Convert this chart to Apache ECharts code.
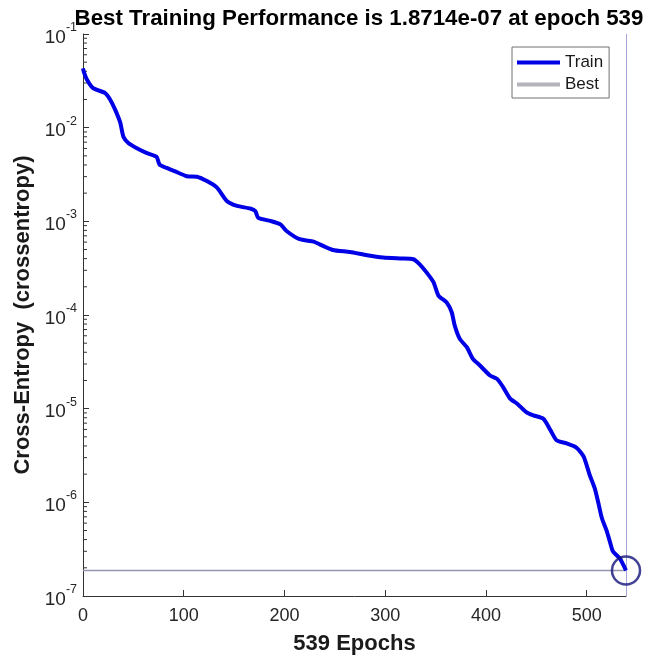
<!DOCTYPE html>
<html><head><meta charset="utf-8">
<script src="https://cdn.jsdelivr.net/npm/echarts@6/dist/echarts.min.js"></script>
<style>html,body{margin:0;padding:0;background:#fff}#c{width:653px;height:662px}</style>
</head><body><div id="c"></div>
<script>
const titleText = 'Best Training Performance is 1.8714e-07 at epoch 539';
const xAxisName = '539 Epochs';
const yAxisName = 'Cross-Entropy  (crossentropy)';
const epochs = [0,1,4,10,22,27,32,37,40,45,53,63,73,76,83,91,103,113,123,133,143,153,166,171,174,186,196,202,215,229,235,248,265,282,298,315,328,334,341,348,353,361,366,369,374,381,387,394,404,411,417,424,431,440,447,457,464,470,480,490,497,503,508,512,515,520,523,526,533,539];
const trainValues = [0.043,0.039,0.0325,0.0264,0.0234,0.0199,0.0155,0.0113,0.00807,0.00687,0.00608,0.00538,0.00488,0.00403,0.00372,0.00343,0.00303,0.00299,0.00269,0.00229,0.00164,0.00146,0.00137,0.00129,0.00109,0.00101,0.000929,0.000788,0.000644,0.000608,0.000568,0.000495,0.000471,0.000435,0.000411,0.000401,0.000394,0.000349,0.000285,0.000223,0.000160,0.000136,0.000107,7.7e-5,5.56e-5,4.53e-5,3.40e-5,2.89e-5,2.26e-5,2.08e-5,1.70e-5,1.28e-5,1.13e-5,9.2e-6,8.5e-6,7.8e-6,5.9e-6,4.6e-6,4.25e-6,3.82e-6,3.08e-6,1.95e-6,1.41e-6,9.4e-7,6.8e-7,4.9e-7,3.8e-7,3.0e-7,2.5e-7,1.8714e-7];
const bestEpoch = 539;
const bestValue = 1.8714e-7;
const xTicks = [0,100,200,300,400,500];
const yDecades = [-7,-6,-5,-4,-3,-2];
const yMinorMantissas = [2,3,4,5,6,7,8,9];
const xMin = 0, xMax = 539;
const yMin = 1e-7, yMax = 1e-1;

const font = '"Liberation Sans", Arial, Helvetica, sans-serif';
const trainData = epochs.map((e, i) => [e, trainValues[i]]);
const minorTickData = [];
yDecades.forEach(d => yMinorMantissas.forEach(m => minorTickData.push([xMin, m * Math.pow(10, d)])));

const chart = echarts.init(document.getElementById('c'), null, {renderer: 'canvas'});
chart.setOption({
  animation: false,
  backgroundColor: '#fff',
  title: {
    text: titleText, left: 354, top: 3, textAlign: 'center',
    textStyle: {fontFamily: font, fontSize: 22.3, fontWeight: 'bold', color: '#000'}
  },
  legend: {
    orient: 'vertical', left: 512, top: 47,
    data: [{name: 'Train', icon: 'rect'}, {name: 'Best', icon: 'rect', itemStyle: {color: '#b4b4bc'}}],
    itemWidth: 43, itemHeight: 4, itemGap: 5,
    padding: [7, 6, 5, 5],
    borderColor: '#707070', borderWidth: 1, backgroundColor: '#fff',
    textStyle: {fontFamily: font, fontSize: 17, color: '#1a1a1a'}
  },
  grid: {left: 83, right: 27, top: 34, bottom: 66},
  xAxis: {
    type: 'value', min: xMin, max: xMax,
    name: xAxisName, nameLocation: 'middle', nameGap: 37,
    nameTextStyle: {fontFamily: font, fontSize: 22, fontWeight: 'bold', color: '#1a1a1a'},
    axisLine: {lineStyle: {color: '#333', width: 1}},
    axisTick: {inside: true, length: 6, lineStyle: {color: '#333'}, customValues: xTicks},
    axisLabel: {fontFamily: font, fontSize: 18, color: '#262626', margin: 11, customValues: xTicks},
    splitLine: {show: false}
  },
  yAxis: {
    type: 'log', logBase: 10, min: yMin, max: yMax,
    name: yAxisName, nameLocation: 'middle', nameGap: 47, nameRotate: 90,
    nameTextStyle: {fontFamily: font, fontSize: 22, fontWeight: 'bold', color: '#1a1a1a'},
    axisLine: {show: true, lineStyle: {color: '#333', width: 1}},
    axisTick: {inside: true, length: 6, lineStyle: {color: '#333'}},
    minorTick: {show: false},
    axisLabel: {
      margin: 6,
      formatter: function (v) {
        const e = Math.round(Math.log10(v));
        return '{b|10}{s|' + e + '}';
      },
      rich: {
        b: {fontFamily: font, fontSize: 19, color: '#262626', verticalAlign: 'bottom', lineHeight: 26},
        s: {fontFamily: font, fontSize: 12.5, color: '#262626', verticalAlign: 'top', lineHeight: 13}
      }
    },
    splitLine: {show: false}
  },
  series: [
    {
      name: 'minorTicks', type: 'custom', data: minorTickData, silent: true, z: 1,
      renderItem: function (params, api) {
        const p = api.coord([api.value(0), api.value(1)]);
        return {type: 'line', shape: {x1: p[0], y1: p[1], x2: p[0] + 4, y2: p[1]},
                style: {stroke: '#333', lineWidth: 1}};
      }
    },
    {
      name: 'Train', type: 'line', data: trainData, showSymbol: false, symbol: 'none',
      smooth: 0.2, lineStyle: {color: '#0000e6', width: 4}, itemStyle: {color: '#0000e6'}, z: 5
    },
    {
      name: 'Best', type: 'line', data: [[xMin, bestValue], [bestEpoch, bestValue]],
      symbol: 'none', lineStyle: {color: '#9497ad', width: 1.5}, itemStyle: {color: '#b4b4bc'}, z: 3,
      markLine: {
        silent: true, symbol: 'none', label: {show: false},
        lineStyle: {color: '#a6a6d6', width: 1, type: 'solid'},
        data: [{xAxis: bestEpoch}]
      }
    },
    {
      name: 'BestPoint', type: 'scatter', data: [[bestEpoch, bestValue]], symbolSize: 28, clip: false,
      itemStyle: {color: 'rgba(0,0,0,0)', borderColor: '#14147a', borderWidth: 2.5}, z: 6
    }
  ]
});
</script>
</body></html>
